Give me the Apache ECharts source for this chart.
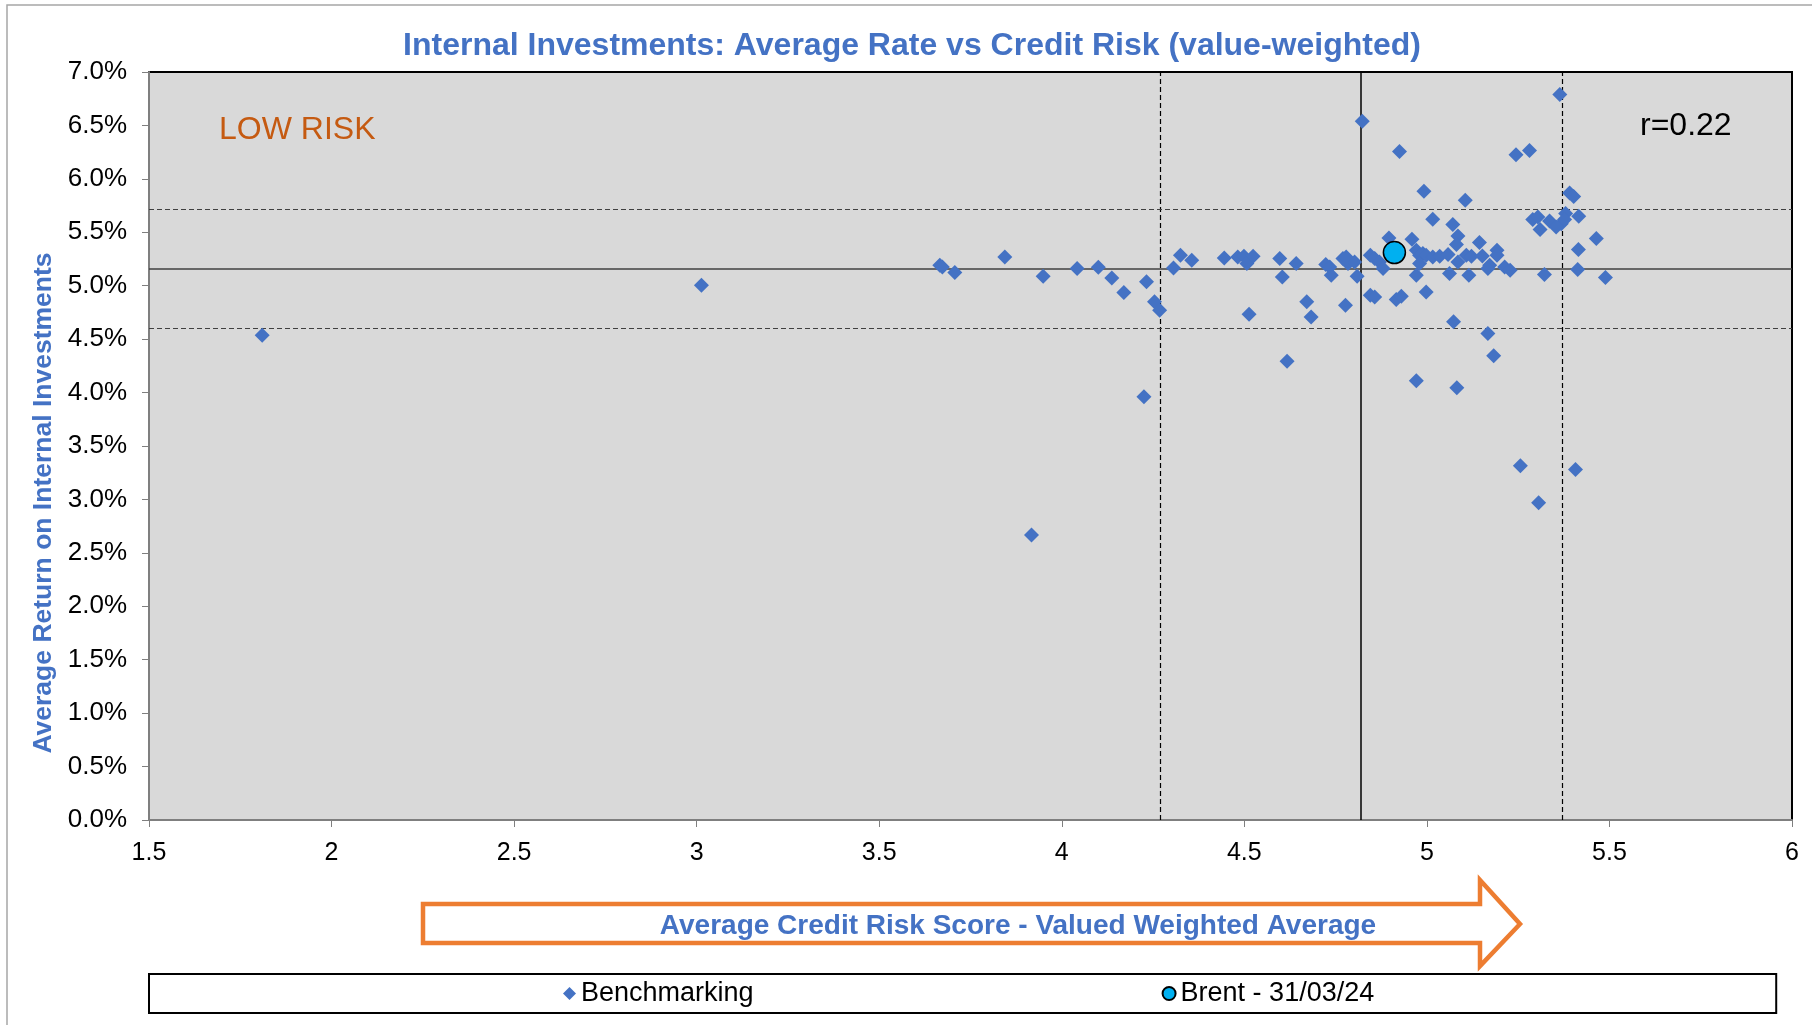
<!DOCTYPE html>
<html>
<head>
<meta charset="utf-8">
<title>Internal Investments: Average Rate vs Credit Risk</title>
<script src="https://cdn.jsdelivr.net/npm/echarts@6.0.0/dist/echarts.min.js"></script>
<style>
  html, body { margin: 0; padding: 0; background: #fff; }
  #chart { width: 1812px; height: 1025px; }
</style>
</head>
<body>
<div id="chart"></div>
<script>
// benchmarking peers: credit risk score (x) and average return % (y)
const benchmarkRisk = [
  1.810, 3.013, 3.666, 3.673, 3.707, 3.844, 3.949, 4.042, 4.100, 4.137,
  4.170, 4.232, 4.225, 3.917, 4.254, 4.268, 4.306, 4.325, 4.356, 4.445,
  4.482, 4.499, 4.507, 4.524, 4.513, 4.617, 4.597, 4.604, 4.642, 4.671,
  4.683, 4.723, 4.734, 4.738, 4.770, 4.779, 4.784, 4.777, 4.802, 4.809,
  4.823, 4.845, 4.857, 4.870, 4.880, 4.896, 4.845, 4.857, 4.916, 4.930,
  4.925, 4.959, 4.992, 5.016, 4.971, 4.980, 4.989, 4.980, 4.971, 4.998,
  4.971, 4.998, 5.016, 5.035, 5.058, 5.071, 5.085, 5.081, 5.062, 5.085,
  5.105, 5.108, 5.122, 5.115, 5.144, 5.152, 5.172, 5.167, 5.192, 5.192,
  5.213, 5.228, 5.073, 5.082, 5.167, 5.183, 5.244, 5.281, 5.364, 5.391,
  5.402, 5.290, 5.304, 5.310, 5.336, 5.354, 5.368, 5.380, 5.377, 5.416,
  5.464, 5.415, 5.413, 5.322, 5.489, 5.256, 5.407, 5.306
];
const benchmarkRate = [
  4.536, 5.005, 5.192, 5.176, 5.123, 5.269, 5.089, 5.161, 5.173, 5.073,
  4.936, 5.036, 3.961, 2.668, 4.849, 4.771, 5.166, 5.285, 5.238, 5.260,
  5.269, 5.276, 5.207, 5.276, 4.734, 4.294, 5.254, 5.082, 5.207, 4.849,
  4.708, 5.198, 5.176, 5.098, 5.254, 5.269, 5.207, 4.818, 5.222, 5.089,
  6.540, 5.285, 5.254, 5.222, 5.161, 5.447, 4.911, 4.895, 4.871, 4.902,
  6.257, 5.435, 5.883, 5.621, 5.332, 5.285, 5.301, 5.207, 5.098, 4.942,
  4.110, 5.285, 5.269, 5.276, 5.292, 5.572, 5.465, 5.385, 5.114, 5.222,
  5.799, 5.285, 5.276, 5.098, 5.404, 5.278, 5.192, 5.161, 5.332, 5.285,
  5.176, 5.145, 4.662, 4.045, 4.553, 4.344, 6.226, 6.266, 6.790, 5.867,
  5.836, 5.619, 5.643, 5.525, 5.606, 5.550, 5.581, 5.675, 5.619, 5.650,
  5.441, 5.338, 5.151, 5.105, 5.077, 3.316, 3.279, 2.970
];
const brentRisk = [4.911];
const brentRate = [5.310];

// mean and +/- 1 sd reference lines
const riskLines = [4.266, 4.816, 5.367];
const rateLines = [4.602, 5.164, 5.725];

const seriesNames = ["Benchmarking", "Brent - 31/03/24"];
const correlationLabel = "r=0.22";

const FONT = "'Liberation Sans', Arial, sans-serif";
const BLUE = "#4472C4";
const ORANGE = "#ED7D31";

const toPairs = (xs, ys) => xs.map((x, i) => [x, ys[i]]);

const refLine = (key, value, i, color) => ({
  [key]: value,
  lineStyle: { color, width: i === 1 ? 1.5 : 1.2, type: i === 1 ? "solid" : [5, 3] },
});

const buildOption = () => ({
  animation: false,
  backgroundColor: "#fff",
  textStyle: { fontFamily: FONT },
  title: {
    text: "Internal Investments: Average Rate vs Credit Risk (value-weighted)",
    left: 912,
    top: 30,
    padding: 0,
    textAlign: "center",
    textStyle: { color: BLUE, fontSize: 32, fontWeight: "bold", fontFamily: FONT },
  },
  grid: {
    left: 149, right: 20, top: 72, bottom: 205,
    show: true, backgroundColor: "#d9d9d9", borderColor: "#000", borderWidth: 2,
  },
  xAxis: {
    type: "value",
    min: 1.5, max: 6, interval: 0.5,
    axisLine: { show: true, onZero: false, lineStyle: { color: "#7f7f7f", width: 2 } },
    axisTick: { show: true, length: 7, lineStyle: { color: "#7f7f7f" } },
    axisLabel: { color: "#000", fontSize: 25, margin: 21, fontFamily: FONT },
    splitLine: { show: false },
  },
  yAxis: {
    type: "value",
    min: 0, max: 7, interval: 0.5,
    name: "Average Return on Internal Investments",
    nameLocation: "middle",
    nameGap: 92,
    nameTextStyle: {
      color: BLUE, fontSize: 26.5, fontWeight: "bold", fontFamily: FONT,
      padding: [0, 114, 0, 0],
    },
    axisLine: { show: true, onZero: false, lineStyle: { color: "#7f7f7f", width: 2 } },
    axisTick: { show: true, length: 7, lineStyle: { color: "#7f7f7f" } },
    axisLabel: {
      color: "#000", fontSize: 26, margin: 22, fontFamily: FONT,
      formatter: (v) => v.toFixed(1) + "%",
    },
    splitLine: { show: false },
  },
  legend: {
    data: [
      { name: seriesNames[0], icon: "diamond" },
      { name: seriesNames[1], icon: "circle" },
    ],
    left: 149,
    top: 974,
    itemWidth: 13,
    itemHeight: 13,
    itemGap: 408,
    padding: [6, 402, 6, 414],
    borderColor: "#000",
    borderWidth: 2,
    backgroundColor: "#fff",
    textStyle: { color: "#000", fontSize: 27, fontFamily: FONT },
  },
  series: [
    {
      name: seriesNames[0],
      type: "scatter",
      symbol: "diamond",
      symbolSize: 15,
      itemStyle: { color: BLUE, opacity: 1 },
      data: toPairs(benchmarkRisk, benchmarkRate),
      z: 3,
      markLine: {
        silent: true,
        symbol: "none",
        z: 1,
        label: { show: false },
        data: [
          ...riskLines.map((v, i) => refLine("xAxis", v, i, "#000")),
          ...rateLines.map((v, i) => refLine("yAxis", v, i, "#404040")),
        ],
      },
    },
    {
      name: seriesNames[1],
      type: "scatter",
      symbol: "circle",
      symbolSize: 22,
      itemStyle: { color: "#00B0F0", borderColor: "#000", borderWidth: 1.5, opacity: 1 },
      data: toPairs(brentRisk, brentRate),
      z: 4,
    },
  ],
  graphic: [
    {
      type: "rect",
      shape: { x: 7, y: 5, width: 1840, height: 1060 },
      style: { fill: "none", stroke: "#a6a6a6", lineWidth: 1.5 },
      silent: true,
      z: -1,
    },
    {
      type: "text",
      x: 219, y: 130,
      style: { text: "LOW RISK", fill: "#C55A11", font: "32px " + FONT, verticalAlign: "middle" },
      z: 10,
    },
    {
      type: "text",
      x: 1640, y: 126,
      style: { text: correlationLabel, fill: "#000", font: "32px " + FONT, verticalAlign: "middle" },
      z: 10,
    },
    {
      type: "polygon",
      shape: {
        points: [
          [423, 904], [1480, 904], [1480, 880], [1520, 924],
          [1480, 966], [1480, 943], [423, 943],
        ],
      },
      style: { fill: "#fff", stroke: ORANGE, lineWidth: 4.5, lineJoin: "miter" },
      z: 5,
    },
    {
      type: "text",
      x: 1018, y: 926,
      style: {
        text: "Average Credit Risk Score - Valued Weighted Average",
        fill: BLUE, font: "bold 28px " + FONT,
        align: "center", verticalAlign: "middle",
      },
      z: 6,
    },
  ],
});

const chart = echarts.init(document.getElementById("chart"), null, { renderer: "canvas" });
chart.setOption(buildOption());
window.addEventListener("resize", () => chart.resize());
</script>
</body>
</html>
